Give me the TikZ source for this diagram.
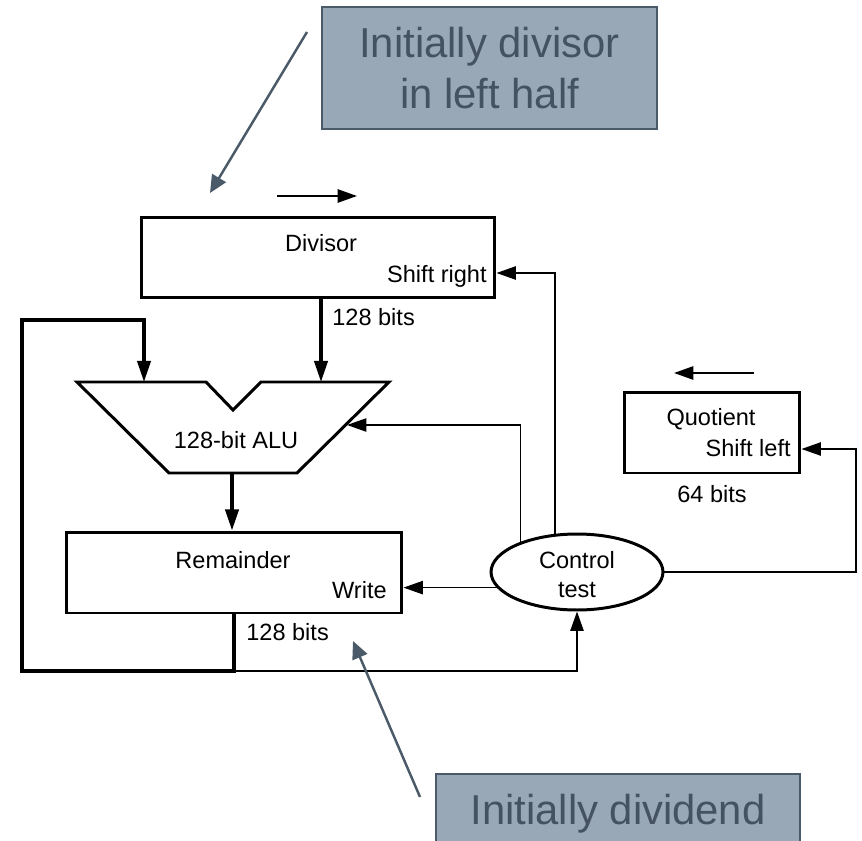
\documentclass[tikz,border=0pt]{standalone}
\usepackage{fontspec}
\setmainfont{Liberation Sans}
\definecolor{notefill}{HTML}{98A8B6}
\definecolor{noteedge}{HTML}{4B5A68}
\definecolor{notetext}{HTML}{45525F}
\usetikzlibrary{arrows.meta, shapes.geometric, positioning, calc}
\newcommand{\bodyfont}{\fontsize{13.4}{16.4}\selectfont}
\newcommand{\notefont}{\fontsize{23.8}{29}\selectfont}
\tikzset{
	regbox/.style={draw, line width=1.7pt, inner sep=0pt, minimum height=1.62cm},
	ctrlbox/.style={draw, ellipse, line width=1.7pt, inner sep=0pt, minimum width=3.44cm,
		minimum height=1.52cm},
	lbl/.style={inner sep=0pt, font=\bodyfont},
	bus/.style={line width=2pt, -{Triangle[length=12pt,width=7.5pt]}},
	ctl/.style={line width=1pt, -{Triangle[length=11pt,width=7.5pt]}},
	note/.style={draw=noteedge, fill=notefill, line width=1pt, text=notetext,
		font=\notefont, align=center, inner sep=0pt},
	notearrow/.style={noteedge, line width=1.4pt, -{Triangle[length=10pt,width=9pt]}}
}

\begin{document}
\begin{tikzpicture}[x=0.02cm, y=-0.02cm]
		\clip (0,0) rectangle (862,841);

		\node[regbox, minimum width=7.08cm] (divisor) at (318,257.5) {};
		\node[lbl, anchor=base] (divname) at (321,252) {Divisor};
		\node[lbl, anchor=base east] (divshift) at (487,282) {Shift right};
		\node[lbl, anchor=base west] (divbits) at (332,325) {128 bits};

		\coordinate (alutl) at (77,382);
		\coordinate (alunl) at (206,382);
		\coordinate (alunb) at (233,410);
		\coordinate (alunr) at (261,382);
		\coordinate (alutr) at (389,382);
		\coordinate (alubr) at (297,473);
		\coordinate (alubl) at (169,473);
		\draw[line width=1.7pt] (alutl) -- (alunl) -- (alunb) -- (alunr) -- (alutr)
			-- (alubr) -- (alubl) -- cycle;
		\node[lbl, anchor=base] (aluname) at (236,448) {128-bit ALU};
		\coordinate (aluA) at (144,382);
		\coordinate (aluB) at (321,382);
		\coordinate (aluC) at (347,425);
		\coordinate (aluout) at (232,473);

		\node[regbox, minimum width=6.72cm] (remainder) at (234,572.5) {};
		\node[lbl, anchor=base] (remname) at (233,568) {Remainder};
		\node[lbl, anchor=base east] (remwrite) at (387,598) {Write};
		\node[lbl, anchor=base west] (rembits) at (246,640) {128 bits};

		\node[regbox, minimum width=3.52cm] (quotient) at (712,432.5) {};
		\node[lbl, anchor=base] (quoname) at (711,425) {Quotient};
		\node[lbl, anchor=base east] (quoshift) at (791,456) {Shift left};
		\node[lbl, anchor=base] (quobits) at (712,502) {64 bits};

		\node[ctrlbox] (ctrl) at (577,572) {};
		\node[lbl, anchor=base] (ctrlname) at (577,568) {Control};
		\node[lbl, anchor=base] (ctrltest) at (577,597) {test};

		\coordinate (divin) at ($(divisor.east)+(0,15.5)$);
		\coordinate (quoin) at ($(quotient.east)+(0,16.5)$);
		\coordinate (fbjoin) at (234,671);
		\coordinate (fbleft) at (22,671);
		\coordinate (fbtop) at (22,320);
		\coordinate (qright) at (856,572);

		\draw[bus] (divisor.south -| aluB) -- (aluB);
		\draw[bus] (aluout) -- (remainder.north -| aluout);
		\draw[bus] (remainder.south -| fbjoin) -- (fbjoin) -- (fbleft) -- (fbtop) -| (aluA);

		\draw[ctl] (fbjoin) -| (ctrl.south);
		\draw[ctl] (ctrl.191) -- (ctrl.191 -| remainder.east);
		\draw[ctl] (ctrl.152) |- (aluC);
		\draw[ctl] (ctrl.120) |- (divin);
		\draw[ctl] (ctrl.east) -- (qright) |- (quoin);

		\coordinate (dshA) at (277,196);
		\coordinate (dshB) at (357,196);
		\coordinate (qshA) at (754,373);
		\coordinate (qshB) at (674,373);
		\draw[ctl, line width=1.2pt] (dshA) -- (dshB);
		\draw[ctl, line width=1.2pt] (qshA) -- (qshB);

		\node[note, minimum width=6.7cm, minimum height=2.44cm] (topnote) at (489.5,68) {Initially divisor\\in left half};
		\node[note, minimum width=7.28cm, minimum height=1.6cm] (botnote) at (618,814) {Initially dividend};
		\coordinate (topnA) at (307,32);
		\coordinate (topnB) at (210,193);
		\coordinate (botnA) at (420,797);
		\coordinate (botnB) at (353,641);
		\draw[notearrow] (topnA) -- (topnB);
		\draw[notearrow] (botnA) -- (botnB);
\end{tikzpicture}
\end{document}
